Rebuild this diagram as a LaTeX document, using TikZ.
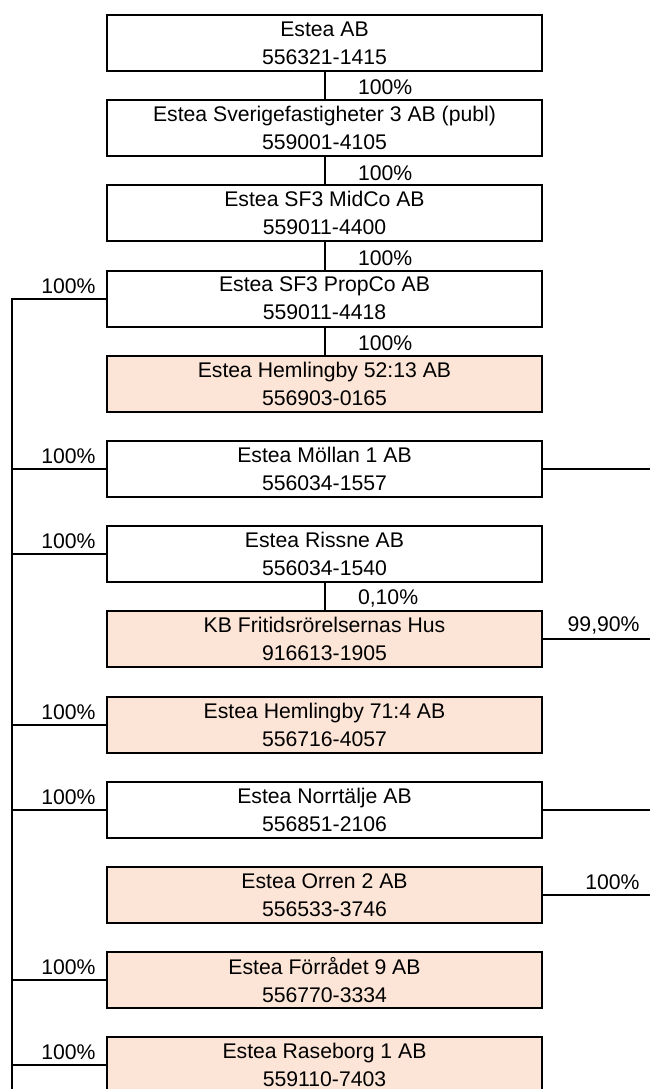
\documentclass[tikz,border=0pt]{standalone}
\usepackage{fontspec}
\setmainfont{Liberation Sans}
\definecolor{peach}{HTML}{FCE4D6}
\begin{document}
\begin{tikzpicture}[x=0.5pt,y=-0.5pt,every node/.style={font=\fontsize{10.6}{14}\selectfont},
  cobox/.style={draw,line width=1pt,minimum width=217.5pt,minimum height=28pt,inner sep=0pt,align=center},
  pct/.style={inner sep=0pt},
  link/.style={line width=1pt}]
\useasboundingbox (0,0) rectangle (650,1089);
% companies, top to bottom
\foreach \i/\nm/\lbl/\fil in {0/estea/{Estea AB\\556321-1415}/white,
  1/svfast/{Estea Sverigefastigheter 3 AB (publ)\\559001-4105}/white,
  2/midco/{Estea SF3 MidCo AB\\559011-4400}/white,
  3/propco/{Estea SF3 PropCo AB\\559011-4418}/white,
  4/hemA/{Estea Hemlingby 52:13 AB\\556903-0165}/peach,
  5/mollan/{Estea Möllan 1 AB\\556034-1557}/white,
  6/rissne/{Estea Rissne AB\\556034-1540}/white,
  7/kbfrit/{KB Fritidsrörelsernas Hus\\916613-1905}/peach,
  8/hemB/{Estea Hemlingby 71:4 AB\\556716-4057}/peach,
  9/norrt/{Estea Norrtälje AB\\556851-2106}/white,
  10/orren/{Estea Orren 2 AB\\556533-3746}/peach,
  11/forrad/{Estea Förrådet 9 AB\\556770-3334}/peach,
  12/raseb/{Estea Raseborg 1 AB\\559110-7403}/peach}
  \node[cobox,fill=\fil] (\nm) at (324.5,43+85.2*\i) {\lbl};
% straight chain
\foreach \a/\b/\p in {estea/svfast/{100\%},svfast/midco/{100\%},midco/propco/{100\%},propco/hemA/{100\%},rissne/kbfrit/{0,10\%}}
  \draw[link] (\a.south) -- (\b.north) node[pct,midway,anchor=west,xshift=16.25pt,yshift=-1pt] (p\b) {\p};
% left bus
\coordinate (busend) at (12,1089);
\draw[link] (propco.west) -| (busend);
\foreach \nm in {mollan,rissne,hemB,norrt,forrad,raseb} \draw[link] (\nm.west) -- (\nm.west -| busend);
\foreach \nm in {propco,mollan,rissne,hemB,norrt,forrad,raseb}
  \node[pct,anchor=south east] (l\nm) at ([xshift=-5pt,yshift=2.5pt]\nm.west) {100\%};
% right side
\coordinate (redge) at (650,0);
\foreach \nm in {mollan,kbfrit,norrt,orren} \draw[link] (\nm.east) -- (\nm.east -| redge);
\node[pct,anchor=south east] (rkbfrit) at ([xshift=-5pt,yshift=2.5pt]kbfrit.east -| redge) {99,90\%};
\node[pct,anchor=south east] (rorren) at ([xshift=-5pt,yshift=2.5pt]orren.east -| redge) {100\%};
\end{tikzpicture}
\end{document}
